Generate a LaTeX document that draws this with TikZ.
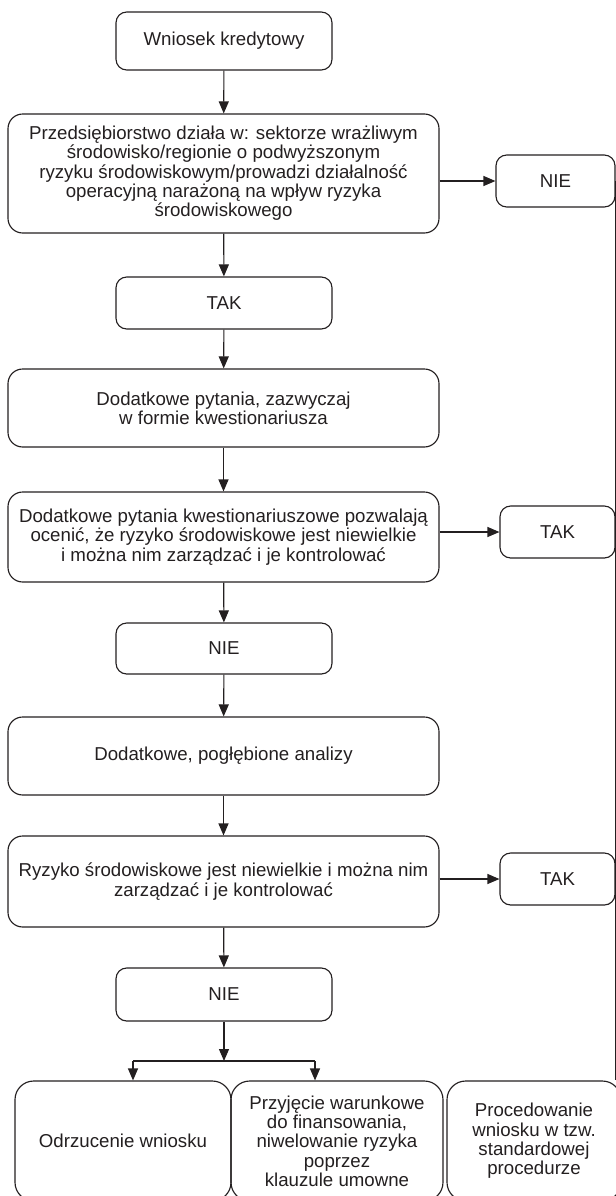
\documentclass[tikz,border=0pt]{standalone}
\usepackage{fontspec}
\setmainfont{Liberation Sans}
\usetikzlibrary{arrows.meta}
\definecolor{ink}{HTML}{231F20}
\begin{document}
\begin{tikzpicture}[x=0.75pt,y=-0.75pt,
  box/.style={draw=ink, line width=0.85pt, rounded corners=8pt, align=center, inner sep=0pt,
    text=ink, font=\fontsize{14}{14.5}\selectfont},
  bigbox/.style={box, rounded corners=11pt},
  endbox/.style={box, rounded corners=14pt},
  arr/.style={draw=ink, line width=0.85pt, -{Triangle[length=9pt,width=7.5pt]}},
  ln/.style={draw=ink, line width=0.85pt}]
\useasboundingbox (0,0) rectangle (616,1196);

\node[box, minimum width=216*0.75pt, minimum height=58*0.75pt] (n1) at (224,41) {Wniosek kredytowy};
\node[bigbox, minimum width=431*0.75pt, minimum height=119*0.75pt] (n2) at (223.5,173.5)
  {Przedsiębiorstwo działa w: sektorze wrażliwym\\środowisko/regionie o podwyższonym\\ryzyku środowiskowym/prowadzi działalność\\operacyjną narażoną na wpływ ryzyka\\środowiskowego};
\node[box, minimum width=119*0.75pt, minimum height=52*0.75pt] (nie1) at (555.5,181) {NIE};
\node[box, minimum width=216*0.75pt, minimum height=52*0.75pt] (tak1) at (224,303) {TAK};
\node[bigbox, minimum width=431*0.75pt, minimum height=78*0.75pt] (n4) at (223.5,408)
  {Dodatkowe pytania, zazwyczaj\\w formie kwestionariusza};
\node[bigbox, minimum width=431*0.75pt, minimum height=90*0.75pt] (n5) at (223.5,537)
  {Dodatkowe pytania kwestionariuszowe pozwalają\\ocenić, że ryzyko środowiskowe jest niewielkie\\i można nim zarządzać i je kontrolować};
\node[box, minimum width=115*0.75pt, minimum height=52*0.75pt] (tak2) at (557.5,532) {TAK};
\node[box, minimum width=216*0.75pt, minimum height=51*0.75pt] (nie2) at (224,648.5) {NIE};
\node[bigbox, minimum width=431*0.75pt, minimum height=78*0.75pt] (n7) at (223.5,756)
  {Dodatkowe, pogłębione analizy};
\node[bigbox, minimum width=431*0.75pt, minimum height=91*0.75pt] (n8) at (223.5,881.5)
  {Ryzyko środowiskowe jest niewielkie i można nim\\zarządzać i je kontrolować};
\node[box, minimum width=115*0.75pt, minimum height=52*0.75pt] (tak3) at (557.5,879) {TAK};
\node[box, minimum width=216*0.75pt, minimum height=53*0.75pt] (nie3) at (224,994.5) {NIE};

\node[endbox, minimum width=216*0.75pt, minimum height=120*0.75pt] (A) at (123,1141)
  {Odrzucenie wniosku};
\node[endbox, minimum width=212*0.75pt, minimum height=120*0.75pt] (B) at (337,1141)
  {Przyjęcie warunkowe\\do finansowania,\\niwelowanie ryzyka\\poprzez\\klauzule umowne};
\node[endbox, minimum width=174*0.75pt, minimum height=120*0.75pt] (C) at (534,1141)
  {Procedowanie\\wniosku w tzw.\\standardowej\\procedurze};

\draw[arr] (n1) -- (n2);
\draw[arr] (n2) -- (tak1);
\draw[arr] (tak1) -- (n4);
\draw[arr] (n4) -- (n5);
\draw[arr] (n5) -- (nie2);
\draw[arr] (nie2) -- (n7);
\draw[arr] (n7) -- (n8);
\draw[arr] (n8) -- (nie3);

\draw[arr] (n2.east |- nie1) -- (nie1.west);
\draw[arr] (n5.east |- tak2) -- (tak2.west);
\draw[arr] (n8.east |- tak3) -- (tak3.west);

\coordinate (bar) at (224,1061);
\coordinate (barL) at (133,1061);
\coordinate (barR) at (315,1061);
\draw[arr] (nie3) -- (bar);
\draw[ln] (barL) -- (barR);
\draw[arr] (barL) -- (barL |- A.north);
\draw[arr] (barR) -- (barR |- B.north);

\draw[ln] (nie1.east) -- (nie1.east |- C.north);
\end{tikzpicture}
\end{document}
